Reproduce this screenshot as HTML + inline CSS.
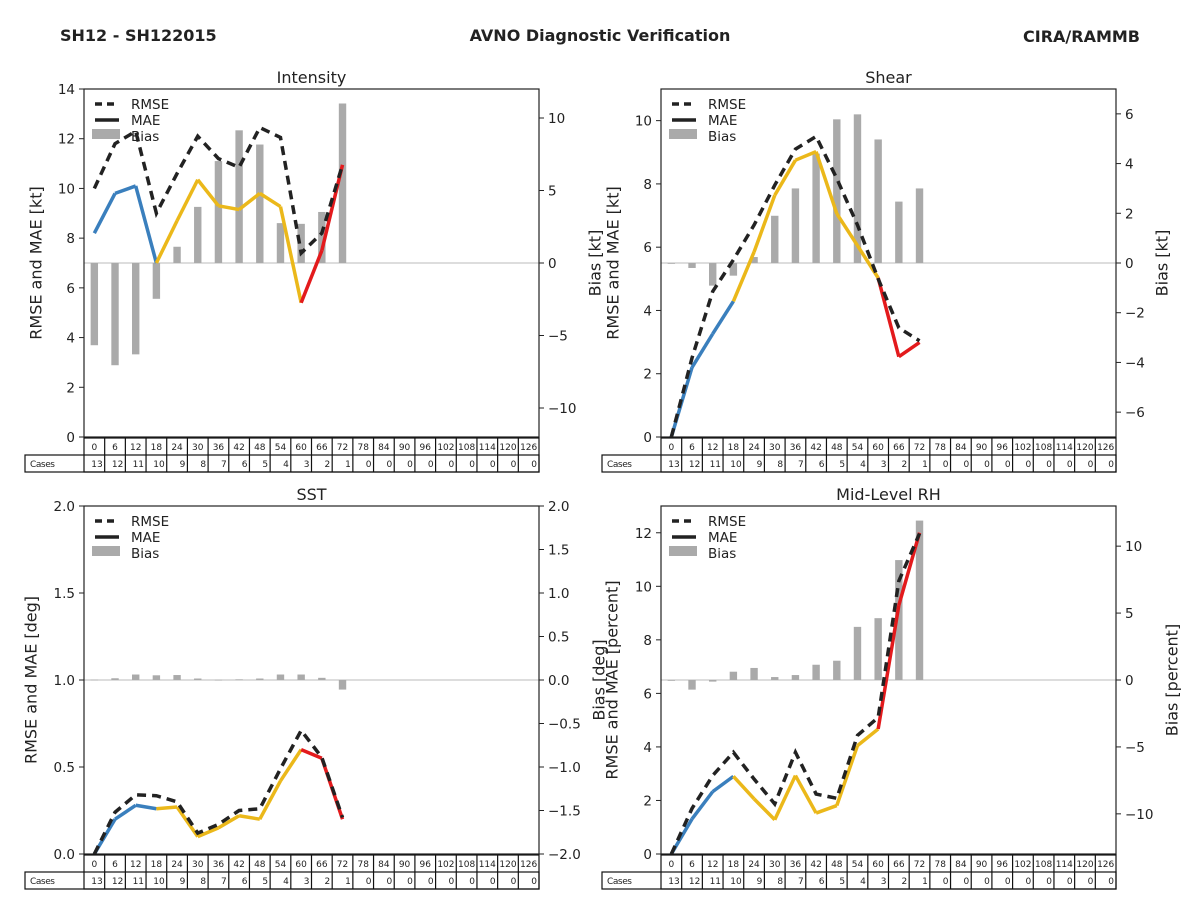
<!DOCTYPE html>
<html><head><meta charset="utf-8"><style>
body{margin:0;background:#fff;width:1200px;height:900px;overflow:hidden;font-family:"Liberation Sans","DejaVu Sans",sans-serif;}
svg text{font-family:"DejaVu Sans","Liberation Sans",sans-serif;fill:#222;}
</style></head><body>
<svg id="fig" width="1200" height="900" xmlns="http://www.w3.org/2000/svg">
<text x="60" y="41" font-size="16" font-weight="bold">SH12 - SH122015</text>
<text x="600" y="41" font-size="16" font-weight="bold" text-anchor="middle">AVNO Diagnostic Verification</text>
<text x="1140" y="42" font-size="16" font-weight="bold" text-anchor="end">CIRA/RAMMB</text>
</svg>
<script>
const leadTimes = [0,6,12,18,24,30,36,42,48,54,60,66,72,78,84,90,96,102,108,114,120,126];
const caseCounts = [13,12,11,10,9,8,7,6,5,4,3,2,1,0,0,0,0,0,0,0,0,0];
const intensityRmse = [10.0,11.8,12.3,9.0,10.6,12.1,11.2,10.85,12.45,12.05,7.4,8.2,10.95];
const intensityMae = [8.2,9.8,10.1,7.0,8.7,10.35,9.3,9.15,9.8,9.27,5.4,7.5,10.95];
const intensityBias = [-5.67,-7.05,-6.3,-2.47,1.12,3.87,7.03,9.15,8.17,2.75,2.7,3.52,11.0];
const shearRmse = [0,2.5,4.6,5.6,6.7,7.96,9.1,9.5,8.17,6.7,5.0,3.45,3.04];
const shearMae = [0,2.2,3.26,4.29,5.85,7.64,8.75,9.02,7.06,6.05,5.03,2.54,2.99];
const shearBias = [-0.03,-0.2,-0.91,-0.51,0.24,1.9,3.0,4.4,5.78,5.98,4.97,2.47,3.0];
const sstRmse = [0,0.24,0.34,0.335,0.3,0.12,0.17,0.25,0.26,0.49,0.71,0.555,0.21];
const sstMae = [0,0.2,0.28,0.26,0.27,0.1,0.15,0.22,0.2,0.42,0.6,0.55,0.2];
const sstBias = [0.005,0.02,0.063,0.054,0.057,0.017,0.003,0.008,0.017,0.063,0.063,0.025,-0.11];
const rhRmse = [0,1.7,2.93,3.8,2.8,1.87,3.8,2.24,2.08,4.43,5.1,10.2,11.97];
const rhMae = [0,1.31,2.33,2.9,2.06,1.28,2.93,1.53,1.81,4.05,4.67,9.29,12.0];
const rhBias = [-0.05,-0.72,-0.12,0.62,0.9,0.22,0.37,1.14,1.44,3.97,4.62,8.96,11.91];

const NS='http://www.w3.org/2000/svg';
const fig=document.getElementById('fig');
function mk(tag,attrs,parent){const e=document.createElementNS(NS,tag);for(const k in attrs)e.setAttribute(k,attrs[k]);(parent||fig).appendChild(e);return e;}
function fmt(v,dec){let s=v.toFixed(dec);if(v<0)s='\u2212'+s.slice(1);return s;}

const panels=[
 {key:'intensity',title:'Intensity',x0:84,x1:539,y0:89,y1:437,lmax:14,lstep:2,ldec:0,bmin:-12,bmax:12,bticks:[-10,-5,0,5,10],bdec:0,rmse:intensityRmse,mae:intensityMae,bias:intensityBias,ll:'RMSE and MAE [kt]',llx:37,rl:'Bias [kt]',rlx:596,tx:25},
 {key:'shear',title:'Shear',x0:661,x1:1116,y0:89,y1:437,lmax:11,lstep:2,ldec:0,bmin:-7,bmax:7,bticks:[-6,-4,-2,0,2,4,6],bdec:0,rmse:shearRmse,mae:shearMae,bias:shearBias,ll:'RMSE and MAE [kt]',llx:614,rl:'Bias [kt]',rlx:1163,tx:602},
 {key:'sst',title:'SST',x0:84,x1:539,y0:506,y1:854,lmax:2,lstep:0.5,ldec:1,bmin:-2,bmax:2,bticks:[-2,-1.5,-1,-0.5,0,0.5,1,1.5,2],bdec:1,rmse:sstRmse,mae:sstMae,bias:sstBias,ll:'RMSE and MAE [deg]',llx:32,rl:'Bias [deg]',rlx:600,tx:25},
 {key:'rh',title:'Mid-Level RH',x0:661,x1:1116,y0:506,y1:854,lmax:13,lstep:2,ldec:0,bmin:-13,bmax:13,bticks:[-10,-5,0,5,10],bdec:0,rmse:rhRmse,mae:rhMae,bias:rhBias,ll:'RMSE and MAE [percent]',llx:613,rl:'Bias [percent]',rlx:1173,tx:602}
];
function segColor(i){return i<3?'#3a7fbd':(i<10?'#ebb81a':'#e31a1c');}

panels.forEach(p=>{
 const g=mk('g',{});
 
 
 const cw=(p.x1-p.x0)/leadTimes.length;
 const xs=i=>p.x0+(i+0.5)*cw;
 const yl=v=>p.y1-(v/p.lmax)*(p.y1-p.y0);
 const yb=v=>p.y1-((v-p.bmin)/(p.bmax-p.bmin))*(p.y1-p.y0);
 const t=mk('text',{x:(p.x0+p.x1)/2,y:p.y0-6,'font-size':16,'text-anchor':'middle'},g);t.textContent=p.title;
 
 // zero line for bias
 const z=mk('line',{x1:p.x0,x2:p.x1,y1:yb(0),y2:yb(0),stroke:'#bbb','stroke-width':1},g);
 
 // bars
 p.bias.forEach((v,i)=>{
  const y=Math.min(yb(v),yb(0)),h=Math.abs(yb(v)-yb(0));
  const r=mk('rect',{x:xs(i)-3.7,y:y,width:7.4,height:Math.max(h,0.8),fill:'#aaa'},g);
  
 });
 // MAE segments
 for(let i=0;i<p.mae.length-1;i++){
  const l=mk('line',{x1:xs(i),y1:yl(p.mae[i]),x2:xs(i+1),y2:yl(p.mae[i+1]),stroke:segColor(i),'stroke-width':3.5,'stroke-linecap':'butt'},g);
  
 }
 // RMSE dashed
 const pts=p.rmse.map((v,i)=>xs(i)+','+yl(v)).join(' ');
 const pl=mk('polyline',{points:pts,fill:'none',stroke:'#222','stroke-width':3.5,'stroke-dasharray':'9,6'},g);
 
 // frame
 const fr=mk('rect',{x:p.x0,y:p.y0,width:p.x1-p.x0,height:p.y1-p.y0,fill:'none',stroke:'#222','stroke-width':1.2},g);
 
 // left ticks
 for(let v=0;v<=p.lmax+1e-9;v+=p.lstep){
  const y=yl(v);
  mk('line',{x1:p.x0-5,x2:p.x0,y1:y,y2:y,stroke:'#222'},g);
  const tt=mk('text',{x:p.x0-9,y:y+5,'font-size':13.5,'text-anchor':'end'},g);tt.textContent=fmt(v,p.ldec);
  
 }
 p.bticks.forEach(v=>{
  const y=yb(v);
  mk('line',{x1:p.x1,x2:p.x1+5,y1:y,y2:y,stroke:'#222'},g);
  const tt=mk('text',{x:p.x1+9,y:y+5,'font-size':13.5},g);tt.textContent=fmt(v,p.bdec);
  
 });
 const cy=(p.y0+p.y1)/2;
 const a=mk('text',{x:p.llx,y:cy,'font-size':16,'text-anchor':'middle',transform:`rotate(-90 ${p.llx} ${cy})`,'dominant-baseline':'middle'},g);a.textContent=p.ll;
 
 const b=mk('text',{x:p.rlx,y:cy,'font-size':16,'text-anchor':'middle',transform:`rotate(-90 ${p.rlx} ${cy})`,'dominant-baseline':'middle'},g);b.textContent=p.rl;
 
 // legend
 const lg=mk('g',{},g);
 
 const lx=p.x0+11,ly=p.y0+15;
 mk('line',{x1:lx,x2:lx+24,y1:ly,y2:ly,stroke:'#222','stroke-width':3.5,'stroke-dasharray':'7,5'},lg);
 mk('line',{x1:lx,x2:lx+24,y1:ly+16,y2:ly+16,stroke:'#222','stroke-width':3.5},lg);
 mk('rect',{x:lx-3,y:ly+25,width:28,height:10,fill:'#aaa'},lg);
 ['RMSE','MAE','Bias'].forEach((s,k)=>{const e=mk('text',{x:lx+36,y:ly+5+k*16,'font-size':13.5},lg);e.textContent=s;});
 // table
 const ry0=p.y1+1,ry1=ry0+17,ry2=ry1+17;
 const tb=mk('g',{},g);
 
 mk('rect',{x:p.tx,y:ry1,width:p.x1-p.tx,height:17,fill:'none',stroke:'#111','stroke-width':1.2},tb);
 mk('rect',{x:p.x0,y:ry0,width:p.x1-p.x0,height:34,fill:'none',stroke:'#111','stroke-width':1.2},tb);
 const ct=mk('text',{x:p.tx+5,y:ry1+12,'font-size':9,'textLength':25},tb);ct.textContent='Cases';
 leadTimes.forEach((lt,i)=>{
  const cx=p.x0+i*cw;
  if(i>0)mk('line',{x1:cx,x2:cx,y1:ry0,y2:ry2,stroke:'#111','stroke-width':1.2},tb);
  const a1=mk('text',{x:cx+cw/2,y:ry0+12,'font-size':9,'text-anchor':'middle'},tb);a1.textContent=lt;
  const a2=mk('text',{x:cx+cw-2,y:ry1+12,'font-size':9,'text-anchor':'end'},tb);a2.textContent=caseCounts[i];
 });
});
</script>
</body></html>
